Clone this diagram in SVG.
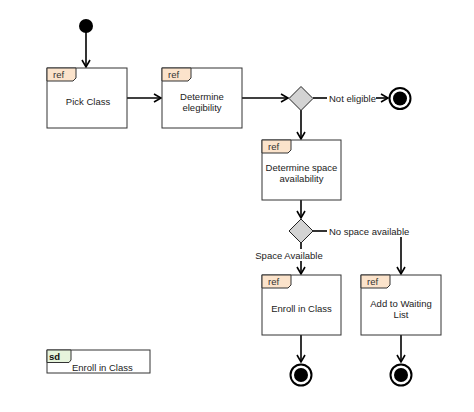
<svg xmlns="http://www.w3.org/2000/svg" width="474" height="412" viewBox="0 0 474 412">
<defs>
<marker id="arr" markerWidth="10" markerHeight="10" refX="8" refY="5" orient="auto" markerUnits="userSpaceOnUse">
<path d="M1,1 L8,5 L1,9" fill="none" stroke="#000" stroke-width="1.6"/>
</marker>
</defs>
<style>
.box{fill:#fff;stroke:#333;stroke-width:1}
.tab{fill:#fbe3cb;stroke:#333;stroke-width:1}
.sdtab{fill:#e6f4dc;stroke:#333;stroke-width:1}
.t{font-family:"Liberation Sans",Arial,sans-serif;font-size:9.5px;fill:#222;text-anchor:middle}
.tr{font-family:"Liberation Sans",Arial,sans-serif;font-size:9.5px;fill:#333}
.lbl{font-family:"Liberation Sans",Arial,sans-serif;font-size:9.5px;fill:#222}
.c{stroke:#000;stroke-width:1.6;fill:none}
.dec{fill:#d3d3d3;stroke:#222;stroke-width:1}
</style>
<rect width="474" height="412" fill="#fff"/>
<g id="connectors">
<line class="c" x1="86" y1="26" x2="86" y2="67" marker-end="url(#arr)"/>
<line class="c" x1="127" y1="98" x2="161" y2="98" marker-end="url(#arr)"/>
<line class="c" x1="242" y1="98" x2="288" y2="98" marker-end="url(#arr)"/>
<line class="c" x1="313" y1="98" x2="327" y2="98"/>
<line class="c" x1="376" y1="98" x2="388" y2="98" marker-end="url(#arr)"/>
<line class="c" x1="301" y1="110" x2="301" y2="139" marker-end="url(#arr)"/>
<line class="c" x1="301" y1="200" x2="301" y2="218" marker-end="url(#arr)"/>
<line class="c" x1="313" y1="231" x2="327" y2="231"/>
<line class="c" x1="401" y1="237" x2="401" y2="274" marker-end="url(#arr)"/>
<line class="c" x1="301" y1="243" x2="301" y2="274" marker-end="url(#arr)"/>
<line class="c" x1="301" y1="335" x2="301" y2="362" marker-end="url(#arr)"/>
<line class="c" x1="401" y1="335" x2="401" y2="362" marker-end="url(#arr)"/>
<rect x="254" y="249" width="70" height="12" fill="#fff"/>
<text class="lbl" x="329" y="101.5">Not eligible</text>
<text class="lbl" x="329" y="234.5">No space available</text>
<text class="lbl" x="289" y="258.5" text-anchor="middle">Space Available</text>
</g>
<g id="start">
<circle cx="86" cy="26" r="7" fill="#000"/>
</g>
<g id="pick-class">
<rect class="box" x="47" y="68" width="80" height="60"/>
<path class="tab" d="M47,68 H76 V78 L73,81 H47 Z"/>
<text class="tr" x="53" y="78">ref</text>
<text class="t" x="88" y="105">Pick Class</text>
</g>
<g id="determine-eligibility">
<rect class="box" x="162" y="68" width="80" height="60"/>
<path class="tab" d="M162,68 H191 V78 L188,81 H162 Z"/>
<text class="tr" x="168" y="78">ref</text>
<text class="t" x="202" y="100">Determine</text>
<text class="t" x="202" y="111">elegibility</text>
</g>
<g id="decision1">
<path class="dec" d="M301,86.5 L313,98.5 L301,110.5 L289,98.5 Z"/>
</g>
<g id="final-not-eligible">
<circle cx="400" cy="98.5" r="10.5" fill="#fff" stroke="#000" stroke-width="2"/>
<circle cx="400" cy="98.5" r="7" fill="#000"/>
</g>
<g id="determine-space">
<rect class="box" x="262" y="140" width="79" height="60"/>
<path class="tab" d="M262,140 H291 V150 L288,153 H262 Z"/>
<text class="tr" x="268" y="150">ref</text>
<text class="t" x="301.5" y="171">Determine space</text>
<text class="t" x="301.5" y="182">availability</text>
</g>
<g id="decision2">
<path class="dec" d="M301,219 L313,231 L301,243 L289,231 Z"/>
</g>
<g id="enroll">
<rect class="box" x="262" y="275" width="79" height="60"/>
<path class="tab" d="M262,275 H291 V285 L288,288 H262 Z"/>
<text class="tr" x="268" y="285">ref</text>
<text class="t" x="301.5" y="312">Enroll in Class</text>
</g>
<g id="waiting-list">
<rect class="box" x="361" y="275" width="80" height="60"/>
<path class="tab" d="M361,275 H390 V285 L387,288 H361 Z"/>
<text class="tr" x="367" y="285">ref</text>
<text class="t" x="401" y="307">Add to Waiting</text>
<text class="t" x="401" y="318">List</text>
</g>
<g id="final-enroll">
<circle cx="301" cy="375" r="10.5" fill="#fff" stroke="#000" stroke-width="2"/>
<circle cx="301" cy="375" r="7" fill="#000"/>
</g>
<g id="final-waiting">
<circle cx="401" cy="375" r="10.5" fill="#fff" stroke="#000" stroke-width="2"/>
<circle cx="401" cy="375" r="7" fill="#000"/>
</g>
<g id="sd-frame">
<rect class="box" x="47" y="350" width="103" height="23"/>
<path class="sdtab" d="M47,350 H71 V360 L69,362.5 H47 Z"/>
<text x="49" y="359.5" font-family="'Liberation Sans',Arial,sans-serif" font-size="9.5" font-weight="bold" fill="#111">sd</text>
<text class="lbl" x="72" y="370.5">Enroll in Class</text>
</g>
</svg>
